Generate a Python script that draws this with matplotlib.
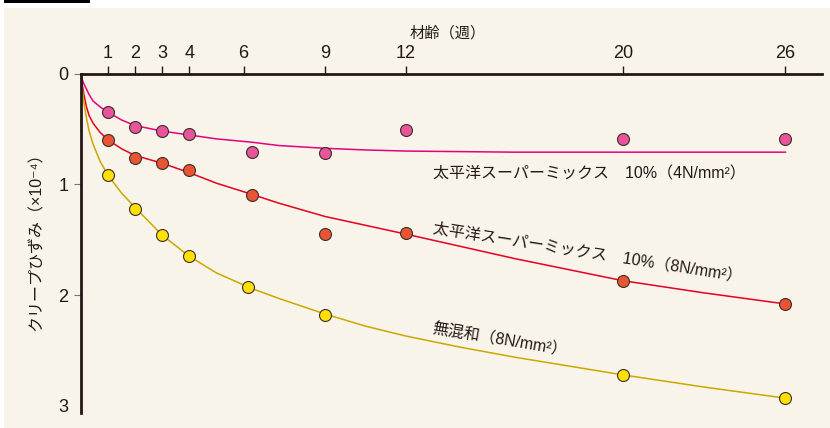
import numpy as np
import matplotlib
matplotlib.use("Agg")
import matplotlib.pyplot as plt
from matplotlib.patches import Rectangle

plt.rcParams['font.family'] = ['Liberation Sans', 'Noto Sans CJK JP', 'DejaVu Sans']

INK = '#231815'

# measured creep strain (x10^-4) vs age (weeks)
weeks_pink = [1, 2, 3, 4, 6.3, 9, 12, 20, 26]
creep_pink = [0.35, 0.48, 0.52, 0.55, 0.71, 0.72, 0.51, 0.59, 0.59]
weeks_red = [1, 2, 3, 4, 6.3, 9, 12, 20, 26]
creep_red = [0.60, 0.76, 0.81, 0.87, 1.10, 1.45, 1.44, 1.87, 2.08]
weeks_yel = [1, 2, 3, 4, 6.15, 9, 20, 26]
creep_yel = [0.92, 1.22, 1.46, 1.65, 1.93, 2.18, 2.72, 2.93]

# fitted curves
curve_w = [0.02, 0.1, 0.2, 0.3, 0.45, 0.7, 1, 1.5, 2, 3, 4, 5, 6.3, 7.3, 9, 10.5, 12,
           14, 16, 18, 20, 23, 26]
curve_pink = [0.04, 0.09, 0.14, 0.19, 0.25, 0.30, 0.35, 0.42, 0.47, 0.52, 0.555, 0.59, 0.62,
              0.65, 0.675, 0.69, 0.70, 0.705, 0.71, 0.71, 0.71, 0.71, 0.71]
curve_red = [0.06, 0.18, 0.30, 0.38, 0.45, 0.53, 0.60, 0.68, 0.74, 0.81, 0.895, 0.99, 1.09,
             1.17, 1.29, 1.37, 1.45, 1.56, 1.67, 1.77, 1.87, 1.98, 2.08]
curve_yel = [0.08, 0.25, 0.40, 0.52, 0.64, 0.79, 0.92, 1.08, 1.21, 1.46, 1.65, 1.80, 1.94,
             2.03, 2.17, 2.28, 2.37, 2.47, 2.56, 2.64, 2.72, 2.83, 2.93]

xticks = [1, 2, 3, 4, 6, 9, 12, 20, 26]
yticks = [0, 1, 2, 3]

fig = plt.figure(figsize=(8.30, 4.28), dpi=100, facecolor='white')
fig.patches.append(Rectangle((4 / 830, 0), 826 / 830, 1 - 8 / 428,
                             transform=fig.transFigure, facecolor='#F8F4EA',
                             edgecolor='none', zorder=-2))
fig.patches.append(Rectangle((4 / 830, 1 - 3 / 428), 86 / 830, 3 / 428,
                             transform=fig.transFigure, facecolor='black',
                             edgecolor='none', zorder=-2))

ax = fig.add_axes([81 / 830, 15 / 428, 741 / 830, 339.5 / 428])
ax.set_facecolor('none')

ax.plot(curve_w, curve_pink, color='#E6007E', lw=1.1, zorder=2)
ax.plot(curve_w, curve_red, color='#E60020', lw=1.1, zorder=2)
ax.plot(curve_w, curve_yel, color='#C9A800', lw=1.1, zorder=2)

mk = dict(ls='none', marker='o', ms=8.6, mec='#3a2e2a', mew=0.8, zorder=3, clip_on=False)
ax.plot(weeks_pink, creep_pink, mfc='#E8559B', **mk)
ax.plot(weeks_red, creep_red, mfc='#E95532', **mk)
ax.plot(weeks_yel, creep_yel, mfc='#FFE100', **mk)

ax.set_xlim(0, 27.35)
ax.set_ylim(3.064, 0)
ax.xaxis.tick_top()
ax.set_xticks(xticks)
ax.set_yticks(yticks)
ax.tick_params(axis='x', direction='out', length=6, width=1, pad=2,
               color=INK, labelcolor=INK, labelsize=13)
ax.tick_params(axis='y', direction='out', length=5, width=0.8, pad=4,
               color='#777777', labelcolor=INK, labelsize=13)
ax.yaxis.get_major_ticks()[3].tick1line.set_visible(False)

for s in ['right', 'bottom']:
    ax.spines[s].set_visible(False)
for s in ['top', 'left']:
    ax.spines[s].set_linewidth(2)
    ax.spines[s].set_color(INK)

fig.text(448 / 830, 1 - 33 / 428, '材齢（週）', ha='center', va='center',
         fontsize=11, color=INK)
fig.text(36 / 830, 1 - 238 / 428, 'クリープひずみ（×10⁻⁴）', rotation=90,
         ha='center', va='center', fontsize=11.5, color=INK)

ax.text(18.75, 0.907, '太平洋スーパーミックス　10%（4N/mm²）',
        ha='center', va='center', fontsize=11.5, color=INK)
ax.text(18.7, 1.628, '太平洋スーパーミックス　10%（8N/mm²）', rotation=-9,
        ha='center', va='center', fontsize=11.5, color=INK)
ax.text(15.45, 2.41, '無混和（8N/mm²）', rotation=-9.5,
        ha='center', va='center', fontsize=11.5, color=INK)

fig.savefig('out.png', dpi=100, facecolor=fig.get_facecolor())
